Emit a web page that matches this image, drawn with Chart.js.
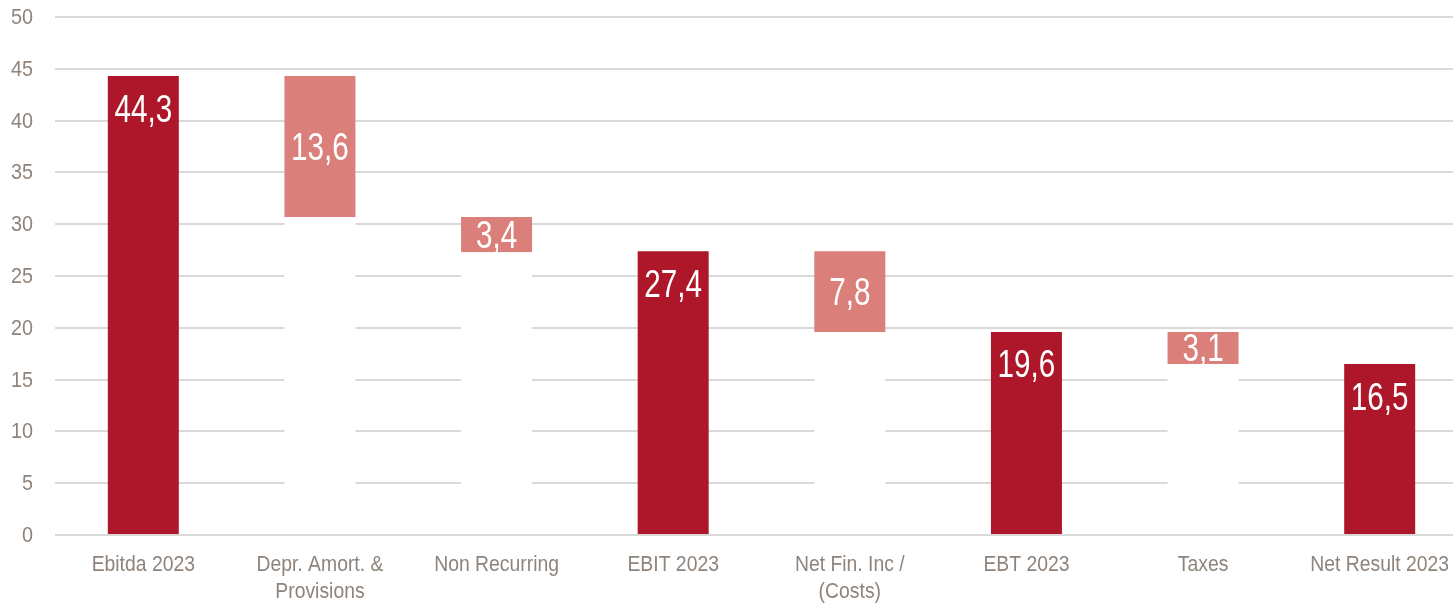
<!DOCTYPE html>
<html>
<head>
<meta charset="utf-8">
<title>Ebitda to Net Result 2023</title>
<script src="https://cdn.jsdelivr.net/npm/chart.js@4"></script>
<style>
  html, body { margin: 0; padding: 0; background: #fff; overflow: hidden; }
  #wrap { width: 1468px; height: 604px; position: relative; }
</style>
</head>
<body>
<div id="wrap"><canvas id="bridge"></canvas></div>
<script>
// --- DATOS ---
const categories = [
    'Ebitda 2023',
    ['Depr. Amort. &', 'Provisions'],
    'Non Recurring',
    'EBIT 2023',
    ['Net Fin. Inc /', '(Costs)'],
    'EBT 2023',
    'Taxes',
    'Net Result 2023'
];
// totales (barras llenas) y variaciones (barras flotantes)
const totals  = [44.3, null, null, 27.4, null, 19.6, null, 16.5];
const changes = [null, 13.6, 3.4, null, 7.8, null, 3.1, null];
const yTicks  = [0, 5, 10, 15, 20, 25, 30, 35, 40, 45, 50];

const DARK = '#AE1729';
const LIGHT = '#DA7F79';
const TEXT = '#8E847C';
const FONT = '"Liberation Sans", Arial, sans-serif';

// Construir base invisible (blanca) y tramos flotantes a partir del nivel acumulado
let level = 0;
const baseBars = [];
const stepBars = [];
const totalBars = [];
categories.forEach((c, i) => {
    if (totals[i] !== null) {
        level = totals[i];
        baseBars.push(null);
        stepBars.push(null);
        totalBars.push([0, totals[i]]);
    } else {
        const top = level;
        const bottom = level - changes[i];
        baseBars.push([0, bottom]);
        stepBars.push([bottom, top]);
        totalBars.push(null);
        level = bottom;
    }
});

const fmt = v => v.toFixed(1).replace('.', ',');

// Texto estrecho (tipo Arial Narrow) escalando en horizontal
const narrowText = (ctx, text, x, y, sx) => {
    ctx.save();
    ctx.translate(x, y);
    ctx.scale(sx, 1);
    ctx.fillText(text, 0, 0);
    ctx.restore();
};

// Etiquetas de ejes y de valor
const narrowLabels = {
    id: 'narrowLabels',
    afterDraw(chart) {
        const ctx = chart.ctx;
        const xs = chart.scales.x;
        const ys = chart.scales.y;
        ctx.save();
        ctx.textBaseline = 'middle';

        // eje Y
        ctx.fillStyle = TEXT;
        ctx.font = '22px ' + FONT;
        ctx.textAlign = 'right';
        yTicks.forEach(v => narrowText(ctx, String(v), 33, ys.getPixelForValue(v) + 1, 0.9));

        // eje X
        ctx.textAlign = 'center';
        categories.forEach((c, i) => {
            const lines = Array.isArray(c) ? c : [c];
            const x = xs.getPixelForValue(i);
            lines.forEach((ln, k) => narrowText(ctx, ln, x, ys.bottom + 30 + k * 27, 0.88));
        });

        // valores
        ctx.fillStyle = '#fff';
        ctx.font = '38px ' + FONT;
        chart.getDatasetMeta(1).data.forEach((el, i) => {
            if (changes[i] === null) return;
            narrowText(ctx, fmt(changes[i]), el.x, (el.y + el.base) / 2 + 3, 0.78);
        });
        chart.getDatasetMeta(2).data.forEach((el, i) => {
            if (totals[i] === null) return;
            narrowText(ctx, fmt(totals[i]), el.x, el.y + 35, 0.78);
        });
        ctx.restore();
    }
};

const barOpts = { barPercentage: 0.402, categoryPercentage: 1 };

new Chart(document.getElementById('bridge'), {
    type: 'bar',
    data: {
        labels: categories,
        datasets: [
            { label: 'base', data: baseBars, backgroundColor: '#ffffff', ...barOpts },
            { label: 'variación', data: stepBars, backgroundColor: LIGHT, ...barOpts },
            { label: 'total', data: totalBars, backgroundColor: DARK, ...barOpts }
        ]
    },
    options: {
        responsive: true,
        maintainAspectRatio: false,
        animation: false,
        layout: { padding: { top: 17, right: 0, bottom: 0, left: 0 } },
        plugins: {
            legend: { display: false },
            tooltip: { enabled: false }
        },
        scales: {
            x: {
                stacked: true,
                grid: { display: false, drawTicks: false },
                border: { display: false },
                ticks: { display: false },
                afterFit(scale) { scale.height = 69; }
            },
            y: {
                min: 0,
                max: 50,
                afterBuildTicks(scale) { scale.ticks = yTicks.map(v => ({ value: v })); },
                grid: { color: '#D9D9D9', lineWidth: 2, drawTicks: false },
                border: { display: false },
                ticks: { display: false },
                afterFit(scale) { scale.width = 55; }
            }
        }
    },
    plugins: [narrowLabels]
});
</script>
</body>
</html>
